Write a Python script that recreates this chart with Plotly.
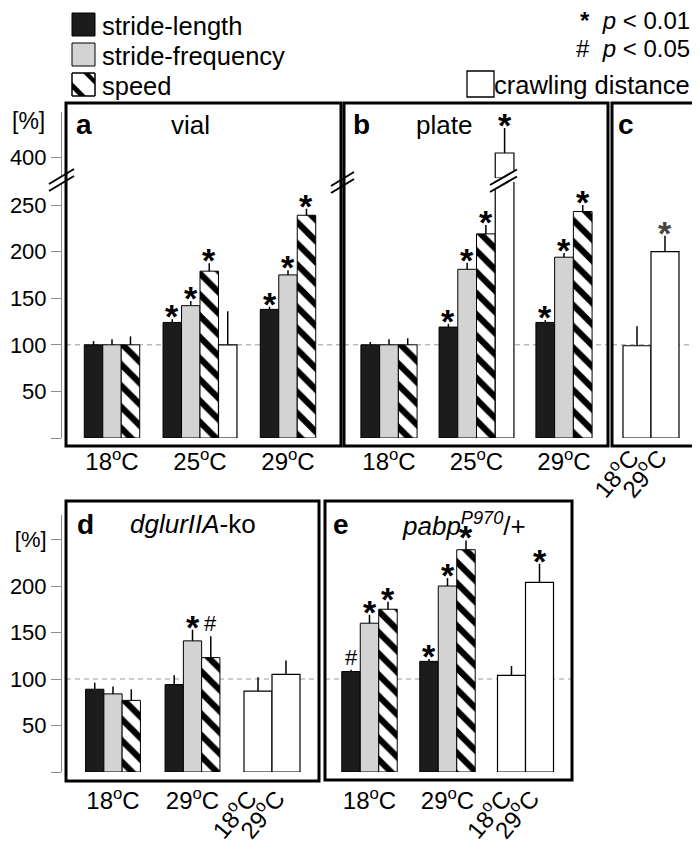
import plotly.graph_objects as go

# The page body keeps an 8px margin, so the figure is drawn 8px in from the
# window corner; the figure is sized to fill the rest of the 700x845 window.
OFF = 8
W, H = 700 - OFF, 845 - OFF
FONT = "Liberation Sans, Arial, Helvetica, sans-serif"

def px(x):
    return (x - OFF) / W

def py(y):
    return 1 - (y - OFF) / H

# ---------------- data ----------------
TEMPS_3 = ["18<sup>o</sup>C", "25<sup>o</sup>C", "29<sup>o</sup>C"]
TEMPS_2 = ["18<sup>o</sup>C", "29<sup>o</sup>C"]
CRAWL_TEMPS = ["18<sup>o</sup>C", "29<sup>o</sup>C"]

# panel a (vial)
vial_len = [100, 124, 138]
vial_len_err = [4, 3.5, 3]
vial_len_sig = ["", "*", "*"]
vial_freq = [100, 142, 175]
vial_freq_err = [6, 5, 5]
vial_freq_sig = ["", "*", "*"]
vial_speed = [100, 179, 239]
vial_speed_err = [9, 8.5, 7]
vial_speed_sig = ["", "*", "*"]
vial_crawl = [None, 100, None]
vial_crawl_err = [None, 36, None]
vial_crawl_sig = ["", "", ""]

# panel b (plate)
plate_len = [100, 119, 124]
plate_len_err = [3, 3.5, 2.5]
plate_len_sig = ["", "*", "*"]
plate_freq = [100, 181, 194]
plate_freq_err = [6, 7, 4.5]
plate_freq_sig = ["", "*", "*"]
plate_speed = [100, 219, 243]
plate_speed_err = [7, 9.5, 7]
plate_speed_sig = ["", "*", "*"]
plate_crawl = [None, 408, None]
plate_crawl_err = [None, 50, None]
plate_crawl_sig = ["", "*", ""]

# panel c (crawling distance)
crawl_c = [99, 200]
crawl_c_err = [21, 17]
crawl_c_sig = ["", "*"]

# panel d (dglurIIA-ko)
ko_len = [89, 94]
ko_len_err = [7, 10]
ko_len_sig = ["", ""]
ko_freq = [84, 141]
ko_freq_err = [8, 12]
ko_freq_sig = ["", "*"]
ko_speed = [77, 123]
ko_speed_err = [12, 23]
ko_speed_sig = ["", "#"]
ko_crawl = [87, 105]
ko_crawl_err = [15, 15]
ko_crawl_sig = ["", ""]

# panel e (pabp P970/+)
pabp_len = [108, 119]
pabp_len_err = [2, 2.5]
pabp_len_sig = ["#", "*"]
pabp_freq = [160, 200]
pabp_freq_err = [9, 8.5]
pabp_freq_sig = ["*", "*"]
pabp_speed = [175, 239]
pabp_speed_err = [8, 10]
pabp_speed_sig = ["*", "*"]
pabp_crawl = [104, 204]
pabp_crawl_err = [10, 20]
pabp_crawl_sig = ["", "*"]

# ---------------- styles ----------------
STYLE = {
    "stride-length": dict(color="#1c1c1c", line=dict(color="black", width=1)),
    "stride-frequency": dict(color="#d3d3d3", line=dict(color="black", width=1)),
    "speed": dict(color="white", line=dict(color="black", width=1),
                  pattern=dict(shape="\\", fgcolor="black", bgcolor="white",
                               fgopacity=1, size=15, solidity=0.42)),
    "crawling distance": dict(color="white", line=dict(color="black", width=1.2)),
}

# axis geometry (pixels)
TOP_Y0, TOP_PXU, TOP_LOW_TOP = 438, 0.932, 182
UP_BOT, UP_TOP, UP_400, UP_PXU = 178, 112, 157, 0.5
BOT_Y0, BOT_PXU, BOT_TOP = 772, 0.93, 515
LOW_MAX = (TOP_Y0 - TOP_LOW_TOP) / TOP_PXU
UP_MIN = 400 - (UP_BOT - UP_400) / UP_PXU
UP_MAX = 400 + (UP_400 - UP_TOP) / UP_PXU
BOT_MAX = (BOT_Y0 - BOT_TOP) / BOT_PXU

fig = go.Figure()
annotations = []
shapes = []

SIG_FMT = {
    "*": dict(text="<b>*</b>", size=34, yshift=-18),
    "#": dict(text="#", size=22, yshift=-2),
}

def add_sig(xa, ya, x, y, sig, color="black"):
    if not sig:
        return
    f = SIG_FMT[sig]
    annotations.append(dict(x=x, y=y, xref=xa, yref=ya, text=f["text"], showarrow=False,
                            xanchor="center", yanchor="bottom", yshift=f["yshift"],
                            font=dict(family=FONT, size=f["size"], color=color)))

def bar_trace(name, xs, ys, ws, errs, xa, ya, base=None):
    fig.add_trace(go.Bar(
        x=xs, y=ys, width=ws, base=base, xaxis=xa, yaxis=ya, name=name,
        marker=STYLE[name], showlegend=False, hoverinfo="skip",
        error_y=dict(type="data", symmetric=False, array=errs,
                     arrayminus=[0] * len(errs), width=0, thickness=1.5,
                     color="black"),
    ))

def add_groups(xa, ya, series, width, ya_up=None):
    n_groups = len(series[0][1])
    pos = {s[0]: [None] * n_groups for s in series}
    for g in range(n_groups):
        present = [s for s in series if s[1][g] is not None]
        n = len(present)
        for i, s in enumerate(present):
            pos[s[0]][g] = g + (i - (n - 1) / 2) * width
    for name, vals, errs, sigs in series:
        xs, ys, es, ux, uy, ue = [], [], [], [], [], []
        for g in range(n_groups):
            if vals[g] is None:
                continue
            xs.append(pos[name][g])
            ys.append(vals[g])
            if ya_up is not None and vals[g] > LOW_MAX:
                es.append(0)
                ux.append(pos[name][g]); uy.append(vals[g]); ue.append(errs[g])
                add_sig(xa, ya_up, pos[name][g], vals[g] + errs[g], sigs[g])
            else:
                es.append(errs[g])
                add_sig(xa, ya, pos[name][g], vals[g] + errs[g], sigs[g])
        bar_trace(name, xs, ys, [width] * len(xs), es, xa, ya)
        if ux:
            bar_trace(name, ux, [v - UP_MIN for v in uy], [width] * len(ux), ue,
                      xa, ya_up, base=[UP_MIN] * len(ux))

def add_pair(xa, ya, center, vals, errs, sigs, width, color="black"):
    xs = [center + (i - (len(vals) - 1) / 2) * width for i in range(len(vals))]
    bar_trace("crawling distance", xs, vals, [width] * len(xs), errs, xa, ya)
    for x, v, e, s in zip(xs, vals, errs, sigs):
        add_sig(xa, ya, x, v + e, s, color)
    return xs

# panel a
add_groups("x", "y", [
    ("stride-length", vial_len, vial_len_err, vial_len_sig),
    ("stride-frequency", vial_freq, vial_freq_err, vial_freq_sig),
    ("speed", vial_speed, vial_speed_err, vial_speed_sig),
    ("crawling distance", vial_crawl, vial_crawl_err, vial_crawl_sig),
], 0.21)
# panel b
add_groups("x2", "y", [
    ("stride-length", plate_len, plate_len_err, plate_len_sig),
    ("stride-frequency", plate_freq, plate_freq_err, plate_freq_sig),
    ("speed", plate_speed, plate_speed_err, plate_speed_sig),
    ("crawling distance", plate_crawl, plate_crawl_err, plate_crawl_sig),
], 0.214, ya_up="y2")
# panel c
c_x = add_pair("x3", "y", 0.5, crawl_c, crawl_c_err, crawl_c_sig, 1.0, color="#444444")
# panel d
add_groups("x4", "y3", [
    ("stride-length", ko_len, ko_len_err, ko_len_sig),
    ("stride-frequency", ko_freq, ko_freq_err, ko_freq_sig),
    ("speed", ko_speed, ko_speed_err, ko_speed_sig),
], 0.23)
d_x = add_pair("x4", "y3", 2, ko_crawl, ko_crawl_err, ko_crawl_sig, 0.352)
# panel e
add_groups("x5", "y3", [
    ("stride-length", pabp_len, pabp_len_err, pabp_len_sig),
    ("stride-frequency", pabp_freq, pabp_freq_err, pabp_freq_sig),
    ("speed", pabp_speed, pabp_speed_err, pabp_speed_sig),
], 0.237)
e_x = add_pair("x5", "y3", 2, pabp_crawl, pabp_crawl_err, pabp_crawl_sig, 0.359)

# empty traces for overlay label axes
fig.add_trace(go.Scatter(x=[], y=[], xaxis="x6", yaxis="y3", showlegend=False))
fig.add_trace(go.Scatter(x=[], y=[], xaxis="x7", yaxis="y3", showlegend=False))

# ---------------- axes ----------------
tickfont = dict(family=FONT, size=22, color="black")
xfont = dict(family=FONT, size=24, color="black")

def xax(d0, d1, r0, r1, anchor, tickvals, ticktext, angle=0, tl=2, **kw):
    a = dict(domain=[px(d0), px(d1)], range=[r0, r1], anchor=anchor,
             tickvals=tickvals, ticktext=ticktext, tickangle=angle,
             showline=False, showgrid=False, zeroline=False,
             ticks="outside" if tl > 0 else "", ticklen=max(tl, 0),
             tickcolor="rgba(0,0,0,0)",
             tickfont=xfont, fixedrange=True, automargin=False)
    a.update(kw)
    return a

def yax(y_bot, y_top, r0, r1, tickvals, ticktext):
    return dict(domain=[py(y_bot), py(y_top)], range=[r0, r1], anchor="free",
                position=px(61), tickvals=tickvals, ticktext=ticktext,
                showline=True, linecolor="#8a8a8a", linewidth=1,
                ticks="outside", ticklen=10, tickcolor="#8a8a8a", tickwidth=1,
                showgrid=False, zeroline=False, tickfont=tickfont, fixedrange=True,
                automargin=False)

TOP_TICKS = [0, 50, 100, 150, 200, 250]
BOT_TICKS = [0, 50, 100, 150, 200, 250]

fig.update_layout(
    xaxis=xax(66, 341, (66 - 112) / 88, (341 - 112) / 88, "y", [0, 1, 2], TEMPS_3, tl=2),
    xaxis2=xax(344, 608, (344 - 389) / 87.5, (608 - 389) / 87.5, "y", [0, 1, 2], TEMPS_3, tl=2),
    xaxis3=xax(612, 698, (612 - 637) / 28, (698 - 637) / 28, "y", c_x, CRAWL_TEMPS,
               angle=-50, tl=0, ticklabelshift=-6),
    xaxis4=xax(66, 319, (66 - 113) / 79.5, (319 - 113) / 79.5, "y3", [0, 1], TEMPS_2, tl=7),
    xaxis5=xax(325, 572, (325 - 369.5) / 78, (572 - 369.5) / 78, "y3", [0, 1], TEMPS_2, tl=7),
    xaxis6=xax(66, 319, (66 - 113) / 79.5, (319 - 113) / 79.5, "y3", d_x, CRAWL_TEMPS,
               angle=-50, tl=2, ticklabelshift=-9, overlaying="x4"),
    xaxis7=xax(325, 572, (325 - 369.5) / 78, (572 - 369.5) / 78, "y3", e_x, CRAWL_TEMPS,
               angle=-50, tl=2, ticklabelshift=-8, overlaying="x5"),
    yaxis=yax(TOP_Y0, TOP_LOW_TOP, 0, LOW_MAX, TOP_TICKS, [""] + [str(t) for t in TOP_TICKS[1:]]),
    yaxis2=yax(UP_BOT, UP_TOP, UP_MIN, UP_MAX, [400], ["400"]),
    yaxis3=yax(BOT_Y0, BOT_TOP, 0, BOT_MAX, BOT_TICKS,
               [""] + [str(t) for t in BOT_TICKS[1:-1]] + ["[%]"]),
)

# ---------------- decorations ----------------
def rect(x0, y0, x1, y1, fill="rgba(0,0,0,0)", lw=3, lc="black"):
    return dict(type="rect", xref="paper", yref="paper", x0=px(x0), y0=py(y0),
                x1=px(x1), y1=py(y1), fillcolor=fill, line=dict(color=lc, width=lw))

def seg(x0, y0, x1, y1, w=2, color="black"):
    return dict(type="line", xref="paper", yref="paper", x0=px(x0), y0=py(y0),
                x1=px(x1), y1=py(y1), line=dict(color=color, width=w))

def poly(points, fill="white"):
    path = "M " + " L ".join(f"{px(x):.5f},{py(y):.5f}" for x, y in points) + " Z"
    return dict(type="path", xref="paper", yref="paper", path=path,
                fillcolor=fill, line=dict(width=0))

# dashed 100 % reference lines
for xa, ya in [("x", "y"), ("x2", "y"), ("x3", "y"), ("x4", "y3"), ("x5", "y3")]:
    shapes.append(dict(type="line", xref=f"{xa} domain", yref=ya, x0=0, x1=1, y0=100, y1=100,
                       layer="below", line=dict(color="#9a9a9a", width=1, dash="5px,4px")))

# panel frames
shapes += [rect(66, 103, 341, 446), rect(344, 103, 608, 446), rect(612, 103, 698, 446),
           rect(66, 501, 319, 781), rect(325, 501, 572, 780)]

# axis breaks
shapes.append(poly([(55, 180.4), (64, 175), (64, 182), (55, 187.4)]))
shapes += [seg(49, 184, 74, 169), seg(49, 191, 74, 176)]
shapes += [seg(331, 186, 354, 172), seg(331, 193, 354, 179)]
shapes.append(poly([(493, 183.3), (516, 170), (516, 177), (493, 190.3)]))
shapes += [seg(490, 185, 517, 169.5), seg(490, 192, 517, 176.5)]

# legend swatches
shapes.append(rect(72, 13, 95, 36, fill="#1c1c1c", lw=1))
shapes.append(rect(72, 43, 95, 66, fill="#d3d3d3", lw=1))
shapes.append(rect(72, 73, 95, 96, fill="white", lw=1))
shapes.append(poly([(83, 73), (89, 73), (95, 79), (95, 85)], fill="black"))
shapes.append(poly([(72, 82), (72, 89), (79, 96), (86, 96)], fill="black"))
shapes.append(rect(72, 73, 95, 96, lw=1))
shapes.append(rect(467, 71, 494, 97, fill="white", lw=1.3))

def txt(x, y, text, size=24, xanchor="left", color="black"):
    annotations.append(dict(x=px(x), y=py(y), xref="paper", yref="paper", text=text,
                            showarrow=False, xanchor=xanchor, yanchor="middle",
                            font=dict(family=FONT, size=size, color=color)))

txt(100, 26, "stride-length", 25.5)
txt(100, 56, "stride-frequency", 25.5)
txt(100, 86, "speed", 25.5)
txt(692, 21, "<b>*</b>  <i>p</i> &lt; 0.01", 24, xanchor="right")
txt(692, 49, "#  <i>p</i> &lt; 0.05", 24, xanchor="right")
txt(692, 85, "crawling distance", 25.5, xanchor="right")

txt(28, 121, "[%]", 23, xanchor="center")
txt(74, 125, "<b>a</b>", 28)
txt(190, 125, "vial", 26, xanchor="center")
txt(351, 125, "<b>b</b>", 28)
txt(444, 125, "plate", 26, xanchor="center")
txt(616, 125, "<b>c</b>", 28)
txt(75, 524, "<b>d</b>", 28)
txt(193, 524, "<i>dglurIIA</i>-ko", 26, xanchor="center")
txt(331, 524, "<b>e</b>", 28)
txt(400, 524, "<i>pabp<sup>P970</sup></i>/+", 26)

fig.update_layout(
    width=W, height=H, margin=dict(l=0, r=0, t=0, b=0, autoexpand=False),
    paper_bgcolor="white", plot_bgcolor="white",
    barmode="overlay", showlegend=False,
    font=dict(family=FONT, color="black"),
    shapes=shapes, annotations=annotations,
)

fig.write_html("out.html")
